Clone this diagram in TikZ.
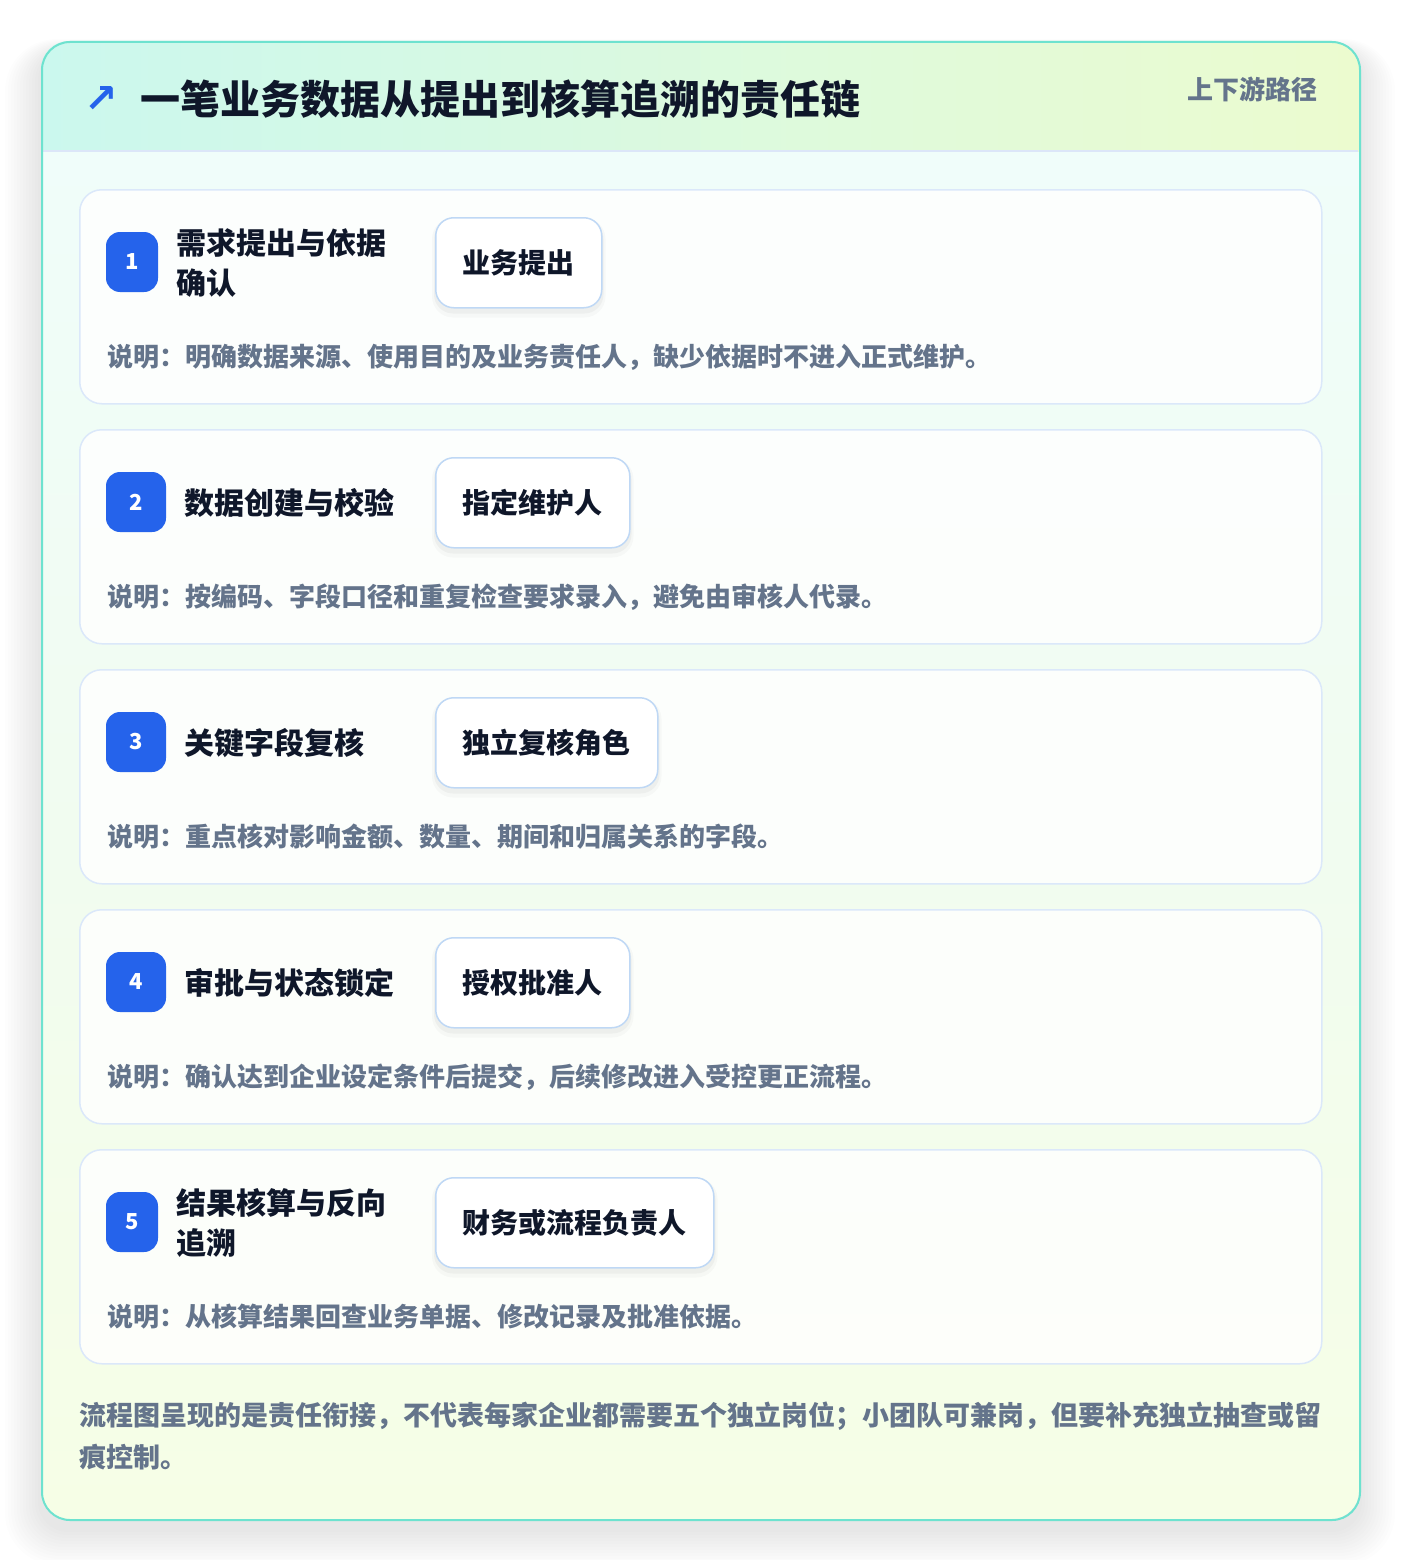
\documentclass[tikz,border=0pt]{standalone}
\usepackage{fontspec}
\setmainfont{Noto Sans CJK SC}
\newfontfamily\symf{DejaVu Sans}
\definecolor{tealb}{HTML}{6EE2CF}
\definecolor{headL}{HTML}{CBF8EE}
\definecolor{headR}{HTML}{ECFBCF}
\definecolor{bodytop}{HTML}{F0FDFA}
\definecolor{bodymid}{HTML}{F1FCF0}
\definecolor{bodybot}{HTML}{F6FEE6}
\definecolor{headline}{HTML}{DCE6F8}
\definecolor{cardb}{HTML}{DBE8FA}
\definecolor{roleb}{HTML}{BFD8F5}
\definecolor{blueb}{HTML}{2563EB}
\definecolor{ink}{HTML}{0F172A}
\definecolor{slate}{HTML}{64748B}
\pgfdeclarelayer{base}
\pgfdeclarelayer{cardl}
\pgfdeclarelayer{shad}
\pgfsetlayers{base,cardl,shad,main}
\tikzset{
  cardbox/.style={draw=cardb, line width=1.5pt, fill=white, fill opacity=0.8, rounded corners=22pt, minimum width=1242pt, minimum height=214pt, inner sep=0pt, anchor=north west},
  badgebox/.style={fill=blueb, rounded corners=14pt, minimum height=60pt, inner sep=0pt, text=white, font=\fontsize{22}{26}\bfseries},
  titletext/.style={inner sep=0pt, anchor=west, align=left, text=ink, font=\fontsize{30}{40}\bfseries},
  rolebox/.style={draw=roleb, line width=1.5pt, fill=white, rounded corners=18pt, minimum height=90pt, inner xsep=27pt, inner ysep=0pt, anchor=north west, text=ink, font=\fontsize{28}{32}\bfseries},
  desctext/.style={inner sep=0pt, anchor=west, text=slate, font=\fontsize{26}{30}\bfseries},
}
\newcommand\stepcard[7]{%
  \begin{pgfonlayer}{cardl}
    \node[cardbox] (card#1) at (79,#2) {};
  \end{pgfonlayer}
  \node[badgebox, minimum width=#3pt] (badge#1) at (106+#3/2,#2+73) {#1};
  \node[titletext] (title#1) at (#4,#2+74) {#5};
  \node[rolebox] (role#1) at (435,#2+28) {#6};
  \begin{pgfonlayer}{shad}
    \fill[black, opacity=0.025, rounded corners=21pt] ([xshift=-3pt,yshift=-1pt]role#1.north west) rectangle ([xshift=3pt,yshift=-9pt]role#1.south east);
    \fill[black, opacity=0.035, rounded corners=19pt] ([xshift=-1pt,yshift=-3pt]role#1.north west) rectangle ([xshift=1pt,yshift=-5pt]role#1.south east);
  \end{pgfonlayer}
  \node[desctext] (desc#1) at (107,#2+168) {#7};
}
\begin{document}
\begin{tikzpicture}[x=1pt,y=-1pt]
\useasboundingbox (0,0) rectangle (1400,1560);
\begin{pgfonlayer}{base}
\fill[white] (0,0) rectangle (1400,1560);
\foreach \i in {1,...,12}{
  \pgfmathsetmacro\rr{28+2*\i}
  \fill[black, opacity=0.007, rounded corners=\rr pt] (41-3*\i,41-1*\i+10) rectangle (1359+3*\i,1519+3*\i+10);
}
\begin{scope}
  \clip[rounded corners=28pt] (41,41) rectangle (1359,1519);
  \shade[top color=bodytop, bottom color=bodybot, middle color=bodymid] (41,151) rectangle (1359,1519);
  \shade[left color=headL, right color=headR] (41,41) rectangle (1359,151);
\end{scope}
\draw[headline, line width=1.5pt] (42,151) -- (1358,151);
\node[draw=tealb, line width=2pt, rounded corners=28pt, minimum width=1318pt, minimum height=1478pt, anchor=north west, inner sep=0pt] (frame) at (41,41) {};
\end{pgfonlayer}
% header
\node[inner sep=0pt, text=blueb, font=\symf\fontsize{40}{44}\bfseries] (arrow) at (101,100) {↗};
\node[inner sep=0pt, anchor=west, text=ink, font=\fontsize{40}{48}\bfseries] (maintitle) at (140,99) {一笔业务数据从提出到核算追溯的责任链};
\node[inner sep=0pt, anchor=east, text=slate, font=\fontsize{26}{30}\bfseries] (tag) at (1318,89) {上下游路径};
% cards
\stepcard{1}{189}{52}{176}{需求提出与依据\\确认}{业务提出}{说明：明确数据来源、使用目的及业务责任人，缺少依据时不进入正式维护。}
\stepcard{2}{429}{60}{184}{数据创建与校验}{指定维护人}{说明：按编码、字段口径和重复检查要求录入，避免由审核人代录。}
\stepcard{3}{669}{60}{184}{关键字段复核}{独立复核角色}{说明：重点核对影响金额、数量、期间和归属关系的字段。}
\stepcard{4}{909}{60}{184}{审批与状态锁定}{授权批准人}{说明：确认达到企业设定条件后提交，后续修改进入受控更正流程。}
\stepcard{5}{1149}{52}{176}{结果核算与反向\\追溯}{财务或流程负责人}{说明：从核算结果回查业务单据、修改记录及批准依据。}
% footer
\node[inner sep=0pt, anchor=west, align=left, text=slate, font=\fontsize{27}{42}\bfseries] (note) at (79,1436) {流程图呈现的是责任衔接，不代表每家企业都需要五个独立岗位；小团队可兼岗，但要补充独立抽查或留\\痕控制。};
\end{tikzpicture}
\end{document}
